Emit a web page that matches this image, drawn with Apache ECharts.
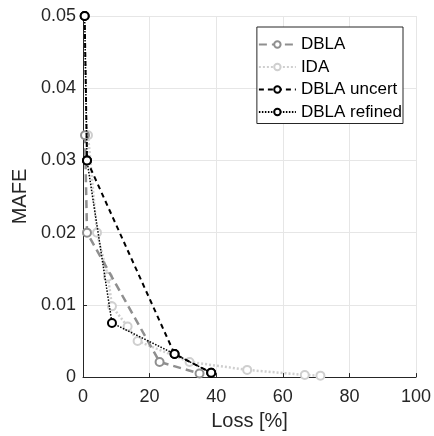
<!DOCTYPE html>
<html>
<head>
<meta charset="utf-8">
<script src="https://cdn.jsdelivr.net/npm/echarts@6/dist/echarts.min.js"></script>
<style>
  html, body { margin: 0; padding: 0; background: #fff; }
  #chart { width: 434px; height: 436px; }
</style>
</head>
<body>
<div id="chart"></div>
<script>
// --- data: [Loss %, MAFE] ---
const dbla = [[0.6, 0.0335], [1.2, 0.0200], [23, 0.0021], [35, 0.0005]];
const ida = [[1.5, 0.0335], [4.2, 0.0200], [7.5, 0.0139], [8.7, 0.0098], [13.4, 0.0070],
             [16.4, 0.0050], [32, 0.0021], [49.3, 0.0010], [66.6, 0.0003], [71.3, 0.0002]];
const dblaUncert = [[0.5, 0.0500], [1.2, 0.0300], [27.5, 0.0032], [38.5, 0.0006]];
const dblaRefined = [[0.5, 0.0500], [1.2, 0.0300], [8.7, 0.0075], [27.5, 0.0032], [38.5, 0.0006]];

const legendNames = ["DBLA", "IDA", "DBLA uncert", "DBLA refined"];

const FONT = "Liberation Sans, Arial, sans-serif";
const TXT = "#262626";

function lineSeries(name, data, color, type, width, symSize, z) {
  return {
    name: name,
    type: "line",
    data: data,
    z: z,
    symbol: "emptyCircle",
    symbolSize: symSize,
    lineStyle: { color: color, type: type, width: width },
    itemStyle: { color: color, borderColor: color, borderWidth: 2, opacity: 1 },
    emphasis: { disabled: true },
    animation: false,
  };
}

const chart = echarts.init(document.getElementById("chart"), null, { renderer: "canvas" });
chart.setOption({
  backgroundColor: "#fff",
  textStyle: { fontFamily: FONT },
  grid: { left: 83, right: 16, top: 16, bottom: 58 },
  xAxis: {
    type: "value",
    min: 0, max: 100, interval: 20,
    name: "Loss [%]",
    nameLocation: "middle",
    nameGap: 28,
    nameTextStyle: { fontSize: 20, color: TXT, fontFamily: FONT },
    axisLine: { lineStyle: { color: "#262626", width: 1 } },
    axisTick: { inside: true, length: 4, lineStyle: { color: "#262626" } },
    axisLabel: { fontSize: 18, color: TXT, margin: 11, fontFamily: FONT },
    splitLine: { lineStyle: { color: "#e6e6e6", width: 1 } },
  },
  yAxis: {
    type: "value",
    min: 0, max: 0.05, interval: 0.01,
    name: "MAFE",
    nameLocation: "middle",
    nameGap: 50,
    nameTextStyle: { fontSize: 20, color: TXT, fontFamily: FONT },
    axisLine: { show: true, lineStyle: { color: "#262626", width: 1 } },
    axisTick: { show: true, inside: true, length: 4, lineStyle: { color: "#262626" } },
    axisLabel: {
      fontSize: 18, color: TXT, margin: 7, fontFamily: FONT,
      formatter: (v) => (v === 0 ? "0" : v.toFixed(2)),
    },
    splitLine: { lineStyle: { color: "#e6e6e6", width: 1 } },
  },
  legend: {
    right: 31, top: 27,
    orient: "vertical",
    itemWidth: 37, itemHeight: 8, itemGap: 5.5,
    padding: [9, 1, 3, 1],
    backgroundColor: "#fff",
    borderColor: "#262626", borderWidth: 1,
    textStyle: { fontSize: 17, color: "#000", fontFamily: FONT },
    data: legendNames,
  },
  series: [
    lineSeries(legendNames[0], dbla, "#8f8f8f", [8, 5], 2.5, 8, 3),
    lineSeries(legendNames[1], ida, "#cfcfcf", [2, 2], 2.5, 8, 2),
    lineSeries(legendNames[2], dblaUncert, "#000000", [5, 4], 2, 8, 4),
    lineSeries(legendNames[3], dblaRefined, "#000000", [1.5, 1.5], 1.5, 8, 5),
  ],
});
</script>
</body>
</html>
